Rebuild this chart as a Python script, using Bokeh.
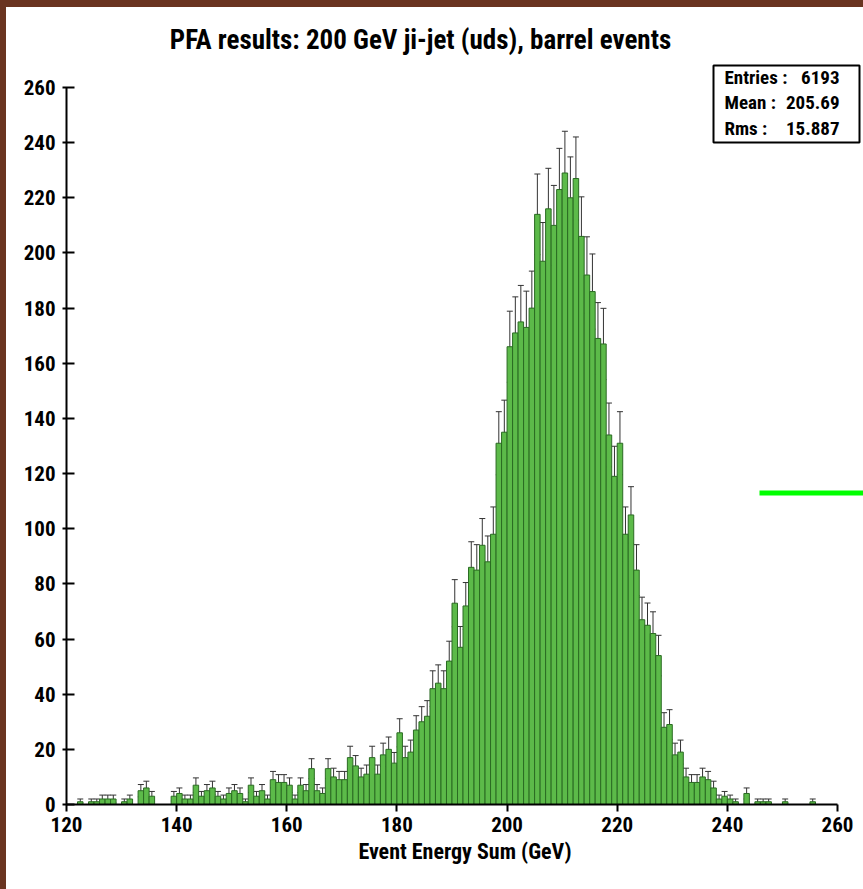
import numpy as np
from bokeh.plotting import figure
from bokeh.models import (ColumnDataSource, Range1d, FixedTicker, Label,
                          BoxAnnotation, Whisker, TeeHead)
from bokeh.layouts import column
from bokeh.embed import file_html
from bokeh.resources import INLINE

# ---------------- data ----------------
bin_low = list(range(120, 260))          # 1 GeV bins, left edges
bin_width = 1.0
counts = [
    0, 0, 1, 0, 1, 1, 2, 2, 2, 0,            # 120-129
    1, 2, 0, 5, 6, 3, 0, 0, 0, 3,            # 130-139
    4, 2, 2, 7, 3, 5, 6, 3, 2, 4,            # 140-149
    5, 4, 1, 7, 3, 5, 2, 9, 8, 8,            # 150-159
    7, 2, 7, 5, 13, 5, 4, 13, 10, 9,         # 160-169
    9, 17, 14, 10, 11, 17, 11, 18, 20, 15,   # 170-179
    26, 17, 19, 27, 30, 32, 42, 44, 42, 52,  # 180-189
    73, 57, 72, 86, 85, 94, 88, 98, 131, 135,          # 190-199
    166, 171, 175, 173, 180, 214, 197, 216, 210, 223,  # 200-209
    229, 220, 227, 206, 192, 186, 169, 167, 134, 119,  # 210-219
    131, 98, 105, 85, 67, 65, 62, 54, 28, 29,          # 220-229
    18, 19, 10, 8, 8, 10, 9, 6, 2, 3,        # 230-239
    2, 1, 0, 4, 0, 1, 1, 1, 0, 0,            # 240-249
    1, 0, 0, 0, 0, 1, 0, 0, 0, 0,            # 250-259
]
x_ticks = [120, 140, 160, 180, 200, 220, 240, 260]
y_ticks = [0, 20, 40, 60, 80, 100, 120, 140, 160, 180, 200, 220, 240, 260]
title_text = "PFA results: 200 GeV ji-jet (uds), barrel events"
x_label = "Event Energy Sum (GeV)"
stat_names = ["Entries :", "Mean :", "Rms :"]
stat_values = ["6193", "205.69", "15.887"]

# ---------------- layout geometry (page pixels) ----------------
W, H = 857, 882
MT, ML = 7, 6                  # page offset of the figure (brown slide border)
AX_X0, AX_X1 = 66, 837         # page x of 120 and 260 GeV
AX_Y0, AX_Y1 = 804, 87         # page y of 0 and 260 entries
X0, X1, Y0, Y1 = 120, 260, 0, 260
TXT_SHIFT = 8                  # label baseline correction (px)

def dx(px):
    return X0 + (px - AX_X0) * (X1 - X0) / (AX_X1 - AX_X0)

def dy(py):
    return Y0 + (AX_Y0 - py) * (Y1 - Y0) / (AX_Y0 - AX_Y1)

BL = AX_X0 - ML
BB = MT + H - AX_Y0

FONT = "Roboto Condensed, Roboto, sans-serif"
BROWN = "#6a3420"

# ---------------- source ----------------
cnt = np.array(counts, dtype=float)
lo = np.array(bin_low, dtype=float)
mask = cnt > 0
err = np.sqrt(cnt)
src = ColumnDataSource(dict(
    left=lo[mask], right=lo[mask] + bin_width, top=cnt[mask],
    center=lo[mask] + bin_width / 2,
    upper=(cnt + err)[mask], lower=(cnt - err)[mask],
))

# frame spans the whole white panel; axes are bounded to the data range
p = figure(width=W, height=H,
           x_range=Range1d(X0, dx(ML + W)), y_range=Range1d(Y0, dy(MT)),
           output_backend="svg", toolbar_location=None, title_location=None,
           min_border_left=BL, min_border_right=0,
           min_border_top=0, min_border_bottom=BB)
p.margin = (MT, 0, 0, ML)
p.background_fill_color = "white"
p.border_fill_color = "white"
p.outline_line_color = None
p.xgrid.visible = False
p.ygrid.visible = False

p.quad(left="left", right="right", bottom=0, top="top", source=src,
       fill_color="#5cba49", line_color="#2a6b22", line_width=1)

whisk = Whisker(base="center", upper="upper", lower="lower", source=src,
                dimension="height", line_color="#333333", line_width=1,
                upper_head=TeeHead(size=6, line_color="#333333", line_width=1),
                lower_head=TeeHead(size=6, line_color="#333333", line_width=1))
p.add_layout(whisk)

# axes
for ax in (p.xaxis[0], p.yaxis[0]):
    ax.axis_line_width = 2
    ax.axis_line_color = "black"
    ax.major_tick_line_width = 2
    ax.major_tick_line_color = "black"
    ax.minor_tick_line_color = None
    ax.major_label_text_font = FONT
    ax.major_label_text_font_style = "bold"
    ax.major_label_text_font_size = "21px"
    ax.major_label_text_color = "black"
p.xaxis.bounds = (X0, X1)
p.yaxis.bounds = (Y0, Y1)
p.xaxis.ticker = FixedTicker(ticks=x_ticks)
p.yaxis.ticker = FixedTicker(ticks=y_ticks)
p.xaxis.major_tick_out = 7
p.xaxis.major_tick_in = 0
p.xaxis.major_label_standoff = 5
p.yaxis.major_tick_out = 4
p.yaxis.major_tick_in = 8
p.yaxis.major_label_standoff = 7
p.xaxis.axis_label = x_label
p.xaxis.axis_label_text_font = FONT
p.xaxis.axis_label_text_font_style = "bold"
p.xaxis.axis_label_text_font_size = "22px"
p.xaxis.axis_label_text_color = "black"
p.xaxis.axis_label_standoff = 4

# title
p.add_layout(Label(x=dx(420), y=dy(47 - TXT_SHIFT), text=title_text, text_align="center",
                   text_baseline="alphabetic", text_font=FONT,
                   text_font_style="bold", text_font_size="27px", text_color="black"))

# stats box
p.add_layout(BoxAnnotation(left=dx(713), right=dx(859), top=dy(65), bottom=dy(142),
                           fill_color="white", fill_alpha=1.0,
                           line_color="black", line_width=2, line_alpha=1.0))
stat_y = [85, 110, 136]
for name, val, yy in zip(stat_names, stat_values, stat_y):
    p.add_layout(Label(x=dx(724), y=dy(yy - TXT_SHIFT), text=name, text_align="left",
                       text_baseline="alphabetic", text_font=FONT,
                       text_font_style="bold", text_font_size="19px", text_color="black"))
    p.add_layout(Label(x=dx(839), y=dy(yy - TXT_SHIFT), text=val, text_align="right",
                       text_baseline="alphabetic", text_font=FONT,
                       text_font_style="bold", text_font_size="19px", text_color="black"))

# green slide marker at right
p.add_layout(BoxAnnotation(left=dx(759), right=dx(870), top=dy(490), bottom=dy(495),
                           fill_color="#00ff00", fill_alpha=1.0, line_color=None))

bg = (f"linear-gradient(to right, {BROWN} 0px, {BROWN} {ML}px, transparent {ML}px), "
      f"linear-gradient(to bottom, {BROWN} 0px, {BROWN} {MT}px, #ffffff {MT}px)")
layout = column(p, styles={"background": bg})
open("out.html", "w").write(file_html(layout, INLINE))
